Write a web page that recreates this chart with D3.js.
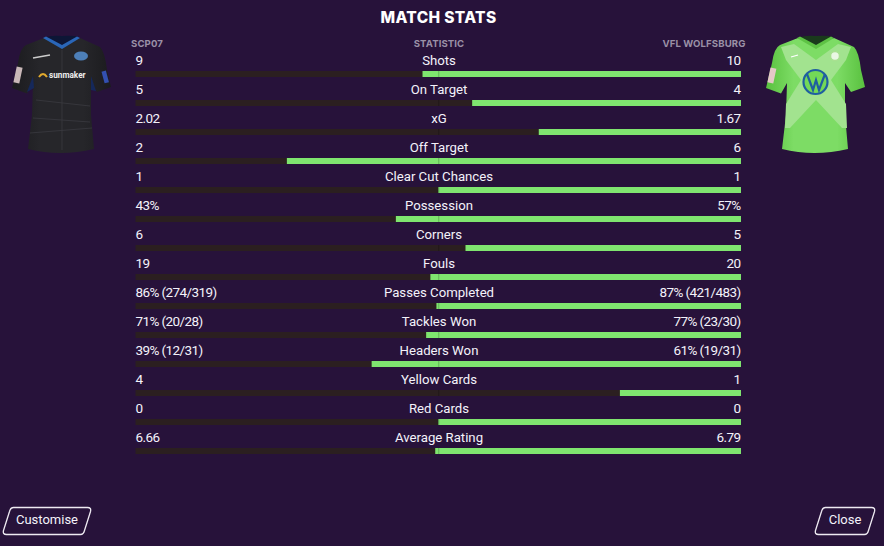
<!DOCTYPE html>
<html><head><meta charset="utf-8">
<script src="https://cdn.jsdelivr.net/npm/d3@7"></script>
<style>html,body{margin:0;padding:0;background:#27123a}svg{display:block}text{font-family:Roboto,sans-serif}</style>
</head><body><div id="c"></div>
<script>
const categories=["Shots","On Target","xG","Off Target","Clear Cut Chances","Possession","Corners","Fouls","Passes Completed","Tackles Won","Headers Won","Yellow Cards","Red Cards","Average Rating"];
const homeLabels=["9","5","2.02","2","1","43%","6","19","86% (274/319)","71% (20/28)","39% (12/31)","4","0","6.66"];
const awayLabels=["10","4","1.67","6","1","57%","5","20","87% (421/483)","77% (23/30)","61% (19/31)","1","0","6.79"];
const homeShare=[47.4,55.6,66.6,25,50,43,54.5,48.7,49.7,48,39,80,50,49.5];
const headers=["SCP07","STATISTIC","VFL WOLFSBURG"];
const title="MATCH STATS";

const W=884,H=546;
const svg=d3.select("#c").append("svg").attr("width",W).attr("height",H);
svg.append("rect").attr("width",W).attr("height",H).attr("fill","#27123a");
const x=d3.scaleLinear().domain([0,100]).range([135.5,741]);
const y=d3.scalePoint().domain(categories).range([60,437]);
const txt="#f4f2fa";

svg.append("text").attr("x",438.5).attr("y",22.5).attr("text-anchor","middle").attr("fill","#fff")
  .style("font-family","Inter").attr("font-size",15.5).attr("font-weight",800).attr("letter-spacing",0.35).text(title);
[[131,"start"],[439,"middle"],[745.5,"end"]].forEach(([px,a],i)=>{
  svg.append("text").attr("x",px).attr("y",47).attr("text-anchor",a).attr("fill","#9a90a6")
    .style("font-family","Inter").attr("font-size",9.6).attr("font-weight",700).attr("letter-spacing",0.1).text(headers[i]);
});

const rows=svg.selectAll("g.row").data(categories).join("g").attr("class","row");
rows.append("rect").attr("x",x(0)).attr("y",c=>y(c)+11).attr("width",x(100)-x(0)).attr("height",6).attr("fill","#2b1f20");
rows.append("rect").attr("x",(c,i)=>x(homeShare[i])).attr("y",c=>y(c)+11)
  .attr("width",(c,i)=>x(100)-x(homeShare[i])).attr("height",6).attr("fill","#7fe56f");
rows.append("rect").attr("x",x(50)).attr("y",c=>y(c)+11).attr("width",1).attr("height",6).attr("fill","#000").attr("opacity",0.22);
const lab=(sel,px,a,f,fs,ls)=>sel.append("text").attr("x",px).attr("y",c=>y(c)+5).attr("text-anchor",a)
  .attr("fill",txt).attr("font-size",fs).attr("letter-spacing",ls).text(f);
lab(rows,135.5,"start",(c,i)=>homeLabels[i],13.5,-0.6);
lab(rows,439,"middle",c=>c,13.2,0);
lab(rows,740.5,"end",(c,i)=>awayLabels[i],13.5,-0.6);

// shirts
const defs=svg.append("defs");
function grad(id,c0,c1,c2){
  const g=defs.append("linearGradient").attr("id",id).attr("x1",0).attr("x2",1).attr("y1",0).attr("y2",0);
  [[0,c0],[0.28,c1],[0.72,c1],[1,c2]].forEach(([o,c])=>g.append("stop").attr("offset",o).attr("stop-color",c));
}
grad("gA","#1b1b1e","#26262a","#1b1b1e");
grad("gB","#59c13f","#7ddc65","#59c13f");
const outline="M44 38 L26 45 Q20 48 18 63 L12 88 L27 93.5 L33 83 L32 115 L28 149 Q60 157 94 149 L91 115 L91 83 L97 92 L111 87 L107 70 Q105 52 100 47 L80 38 Q62 46 44 38Z";
function shirt(dx,body,trim,neck){
  const g=svg.append("g").attr("transform",`translate(${dx},0)`);
  g.append("path").attr("d",outline).attr("fill",body);
  g.append("path").attr("d","M45 38 Q50 35 62 36 Q72 35 79 37 L62 47Z").attr("fill",neck);
  g.append("path").attr("d","M43 38 L62 49 L80 38 L77 36.5 L62 45 L46 36.5Z").attr("fill",trim);
  return g;
}
const a=shirt(0,"url(#gA)","#2a66b8","#0d1636");
a.append("path").attr("d","M27 92 L33 76 L34 88Z").attr("fill","#15285a");
a.append("path").attr("d","M91 76 L96 91 L91 90Z").attr("fill","#15285a");
a.append("path").attr("d","M36 100 L90 106 M62 50 L62 150 M30 133 L92 128 M33 118 L90 122").attr("stroke","#3a3a40").attr("stroke-width",0.8).attr("fill","none");
a.append("path").attr("d","M39 77 Q43 71 47 77").attr("stroke","#e0a92e").attr("stroke-width",2).attr("fill","none");
a.append("text").attr("x",49).attr("y",78).attr("fill","#eee").attr("font-size",8.2).attr("font-weight",700).text("sunmaker");
a.append("path").attr("d","M33 58 L50 55").attr("stroke","#ccc").attr("stroke-width",1.4);
a.append("ellipse").attr("cx",81).attr("cy",56).attr("rx",7).attr("ry",4.5).attr("fill","#4d7fb8");
a.append("rect").attr("x",15).attr("y",67).attr("width",6).attr("height",16).attr("transform","rotate(12 18 75)").attr("fill","#c9b8b8");
a.append("rect").attr("x",103).attr("y",71).attr("width",4.5).attr("height",12).attr("transform","rotate(-15 105 77)").attr("fill","#3350b0");

const b=shirt(754,"url(#gB)","#5ec345","#1a3a1c");
b.append("path").attr("d","M27 47 L40 44 L62 60 L84 44 L97 47 L92 60 L77 80 L92 104 L93 128 L88 128 L62 100 L36 128 L31 128 L32 104 L47 80 L32 60Z").attr("fill","#a2e38f");
b.append("circle").attr("cx",61.5).attr("cy",82).attr("r",12).attr("fill","#73d957").attr("stroke","#1f5fa0").attr("stroke-width",2.2);
b.append("path").attr("d","M53 74 L59 90 L62 80 L65 90 L71 74").attr("fill","none").attr("stroke","#1f5fa0").attr("stroke-width",2.2);
b.append("circle").attr("cx",81).attr("cy",56).attr("r",4.5).attr("fill","#eaf7e4").attr("stroke","#a9e091").attr("stroke-width",1.5);
b.append("rect").attr("x",15).attr("y",68).attr("width",6).attr("height",15).attr("transform","rotate(12 18 75)").attr("fill","#e4c8c8");
b.append("path").attr("d","M37 57 L44 55").attr("stroke","#fff").attr("stroke-width",1.2);

// buttons
const btn=(l,r,t)=>{
  const yT=507.5,yB=534.5,sk=6,rd=4;
  svg.append("path").attr("d",`M${l+sk+rd} ${yT} H${r-rd+1} Q${r+1} ${yT} ${r} ${yT+rd} L${r-sk} ${yB-rd} Q${r-sk-1} ${yB} ${r-sk-rd} ${yB} H${l+rd-1} Q${l-1} ${yB} ${l} ${yB-rd} L${l+sk} ${yT+rd} Q${l+sk+1} ${yT} ${l+sk+rd} ${yT}Z`)
    .attr("fill","none").attr("stroke","#eeeaf2").attr("stroke-width",1.3);
  svg.append("text").attr("x",(l+r)/2).attr("y",524).attr("text-anchor","middle").attr("fill",txt).attr("font-size",13).text(t);
};
btn(3.5,90.5,"Customise");
btn(815.5,874.5,"Close");
</script></body></html>
